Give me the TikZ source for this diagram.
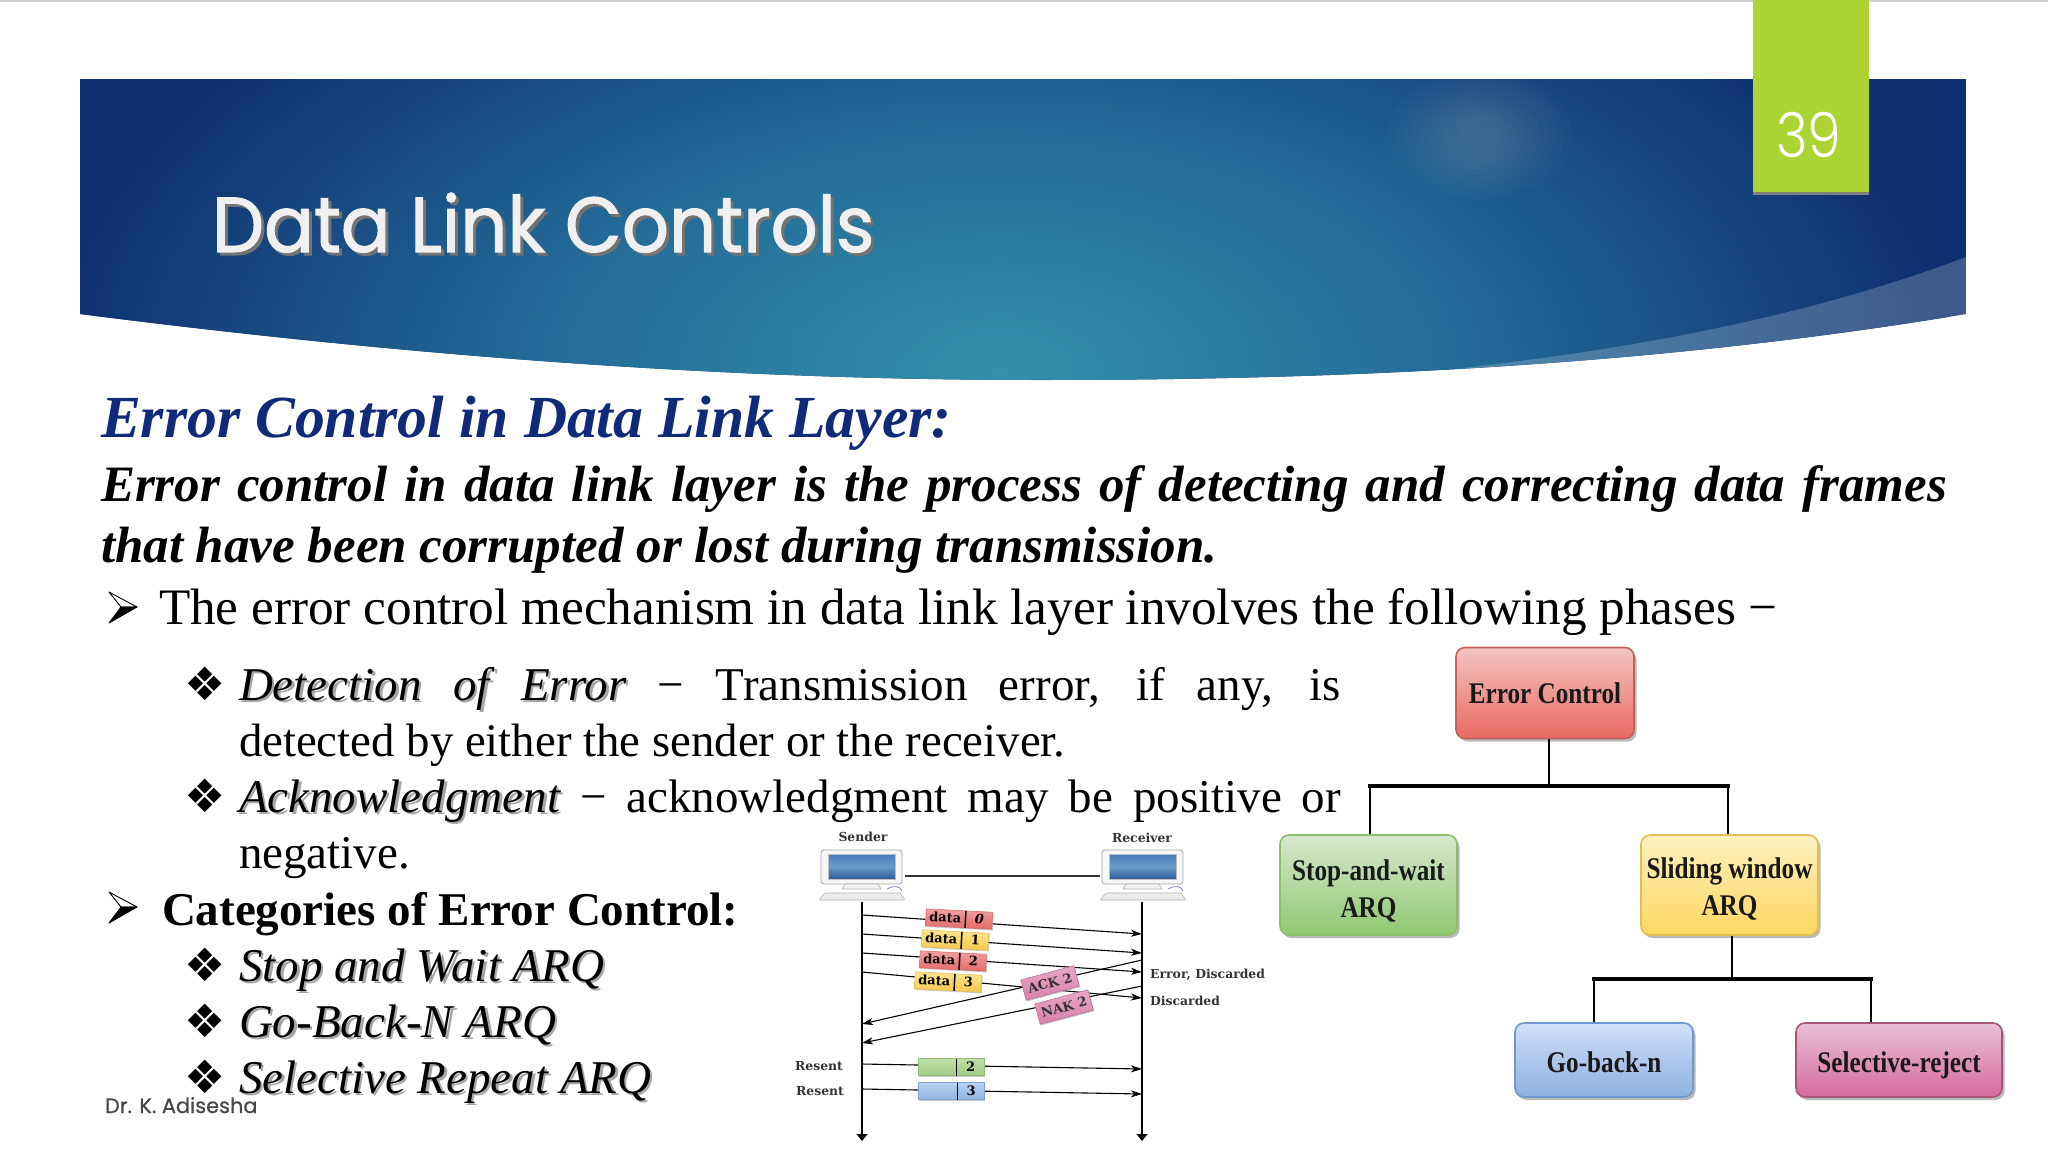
\documentclass[tikz,border=0pt]{standalone}
\usepackage{fontspec}
\usetikzlibrary{arrows.meta,shadows,calc}
\setmainfont{Liberation Serif}
\newfontfamily\titlef[FakeBold=1.3,FakeStretch=0.945]{Poppins}
\newfontfamily\pagef[FakeStretch=0.87]{Poppins Light}
\newfontfamily\footf[FakeBold=0.5]{Poppins}
\newfontfamily\condf[FakeStretch=0.84,BoldFont={Liberation Serif Bold}]{Liberation Serif}
\newfontfamily\wideb{DejaVu Serif}
\newfontfamily\symf{DejaVu Sans}
\definecolor{navyhd}{HTML}{0F3070}
\definecolor{tealhd}{HTML}{338FAB}
\definecolor{midhd}{HTML}{236C98}
\definecolor{headc}{HTML}{0F2A78}
\definecolor{limec}{HTML}{ACD433}
\definecolor{ectop}{HTML}{F4C4C0}\definecolor{ecbot}{HTML}{E96A62}\definecolor{ecdr}{HTML}{C0605A}
\definecolor{swtop}{HTML}{D5E8CC}\definecolor{swbot}{HTML}{8FC871}\definecolor{swdr}{HTML}{8CBF6A}
\definecolor{sltop}{HTML}{FDF0C0}\definecolor{slbot}{HTML}{FDD75F}\definecolor{sldr}{HTML}{E0C050}
\definecolor{gbtop}{HTML}{CFE0F8}\definecolor{gbbot}{HTML}{8EB0E0}\definecolor{gbdr}{HTML}{6F97CC}
\definecolor{srtop}{HTML}{E8C0D4}\definecolor{srbot}{HTML}{D66A9C}\definecolor{srdr}{HTML}{A8557A}
\definecolor{F0A0A0}{HTML}{F0A0A0}\definecolor{E56A6A}{HTML}{E56A6A}\definecolor{D06868}{HTML}{D06868}
\definecolor{FBE690}{HTML}{FBE690}\definecolor{F5C84F}{HTML}{F5C84F}\definecolor{E0BC50}{HTML}{E0BC50}
\definecolor{BFE0A8}{HTML}{BFE0A8}\definecolor{A0CC84}{HTML}{A0CC84}\definecolor{90BC78}{HTML}{90BC78}
\definecolor{B8D2F0}{HTML}{B8D2F0}\definecolor{90B4E0}{HTML}{90B4E0}\definecolor{80A4D0}{HTML}{80A4D0}
\definecolor{E8A8C4}{HTML}{E8A8C4}\definecolor{D880AC}{HTML}{D880AC}\definecolor{B86890}{HTML}{B86890}
\definecolor{4A7AB8}{HTML}{4A7AB8}\definecolor{2A5C98}{HTML}{2A5C98}\definecolor{6A9CC8}{HTML}{6A9CC8}
\pgfdeclareradialshading{hdrshade}{\pgfpointorigin}{color(0bp)=(tealhd); color(12bp)=(midhd); color(25bp)=(navyhd); color(50bp)=(navyhd)}
\newcommand{\fs}[1]{\fontsize{#1}{#1}\selectfont}
\newcommand{\sh}[1]{\rlap{\kern2.5pt\raisebox{-2.5pt}{\textcolor{black!35}{#1}}}#1}
\tikzset{
  x=1pt,y=-1pt,
  txt/.style={anchor=base west,inner sep=0pt,outer sep=0pt},
  shadowed/.style={drop shadow={shadow xshift=2.5pt,shadow yshift=-3pt,fill=black!45,opacity=.6}},
  flowbox/.style={rectangle,rounded corners=9pt,line width=1.6pt,shadowed,inner sep=0pt,align=center,font=\condf\bfseries\fs{30}\selectfont,text=black!90},
  bus/.style={line width=3.6pt,black,line cap=rect},
  stem/.style={line width=2.6pt,black},
  pkt/.style={rectangle,inner sep=0pt,minimum height=17pt,line width=.5pt,font=\wideb\bfseries\fs{13},drop shadow={shadow xshift=1pt,shadow yshift=-1.2pt,fill=black!35,opacity=.6}},
  redpkt/.style={pkt,top color=F0A0A0,bottom color=E56A6A,draw=D06868},
  yelpkt/.style={pkt,top color=FBE690,bottom color=F5C84F,draw=E0BC50},
  grnpkt/.style={pkt,top color=BFE0A8,bottom color=A0CC84,draw=90BC78},
  blupkt/.style={pkt,top color=B8D2F0,bottom color=90B4E0,draw=80A4D0},
  pinkpkt/.style={pkt,minimum height=21pt,minimum width=55pt,top color=E8A8C4,bottom color=D880AC,draw=B86890,text=black!80},
  msg/.style={line width=1.1pt,black,-{Stealth[length=11pt,width=7pt,inset=3pt]}},
  life/.style={line width=1.3pt,black,-{Triangle[length=7pt,width=11pt]}},
  small/.style={inner sep=0pt,font=\wideb\bfseries\fs{12.4},text=black!80},
  computer/.pic={
    \draw[gray!70,line width=.8pt,fill=gray!6,rounded corners=3pt] (0,0) rectangle (81,34);
    \shade[top color=4A7AB8,bottom color=2A5C98,middle color=6A9CC8,draw=gray!50,line width=.3pt] (7,4) rectangle (74,29);
    \draw[gray!60,fill=gray!10,line width=.6pt] (24,34) -- (57,34) -- (60,39) -- (21,39) -- cycle;
    \draw[gray!60,fill=gray!15,line width=.6pt,rounded corners=1pt] (-2,50) -- (4,43) -- (79,43) -- (84,50) -- cycle;
    \draw[blue!40!gray!70,line width=.8pt] (66,39) .. controls (72,35) and (80,36) .. (81,41);
  },
  arrowbullet/.pic={
    \fill[white,draw=black,line width=.9pt,line join=round] (0,0) -- (-28,-15) -- (-16,0) -- cycle;
    \fill[black,draw=black,line width=.9pt,line join=round] (0,0) -- (-28,16) -- (-16,0) -- cycle;
  }
}
\newcommand{\pktbody}[4]{\raisebox{-4pt}{\makebox[#1pt]{#3}}\rule[-8.5pt]{1.5pt}{17pt}\raisebox{-4pt}{\makebox[#2pt]{#4}}}
\begin{document}
\begin{tikzpicture}
\useasboundingbox (0,0) rectangle (2048,1152);
\fill[white] (0,0) rectangle (2048,1152);
\fill[black!18] (0,0) rectangle (2048,2);
% header band
\begin{scope}
\clip (80,79) -- (1966,79) -- (1966,314) .. controls (1660,365) and (1350,380) .. (1040,380) .. controls (720,380) and (400,355) .. (80,314) -- cycle;
\fill[navyhd] (80,79) rectangle (1966,380);
\shade[shading=hdrshade] (50,-130) rectangle (1950,870);
\foreach \i in {1,...,10}
  \fill[white,opacity=.016] (1480,135) ellipse ({100-8*\i} and {70-5*\i});
\fill[white,opacity=.2] (1966,257) .. controls (1800,320) and (1620,350) .. (1463,368) -- (1463,400) -- (1966,400) -- cycle;
\end{scope}
\fill[black!50] (1753,192) rectangle (1869,195);
\fill[limec] (1753,0) rectangle (1869,192);
\node[txt,text=white] (pagenum) at (1776,157) {\pagef\fs{62}39};
\node[txt] (title) at (212,252) {\titlef\fs{78}\rlap{\kern3pt\raisebox{-3pt}{\textcolor{black!55}{Data Link Controls}}}\textcolor{black!6}{Data Link Controls}};
% body text
\node[txt,text=headc] (h1) at (101,437) {\fs{59.7}\bfseries\itshape Error Control in Data Link Layer:};
\node[txt] (l2) at (101,501) {\fs{51}\bfseries\itshape\makebox[1846pt][s]{Error control in data link layer is the process of detecting and correcting data frames}};
\node[txt] (l3) at (101,562) {\fs{51}\bfseries\itshape that have been corrupted or lost during transmission.};
\pic at (137,607) {arrowbullet};
\node[txt] (l4) at (159,624) {\fs{51.2}The error control mechanism in data link layer involves the following phases −};
\node[txt] (b2) at (184,700) {\symf\fs{46}❖};
\node[txt] (l5) at (239,700) {\fs{47}\makebox[1102pt][s]{\itshape\sh{Detection} \sh{of} \sh{Error}\upshape\ − Transmission error, if any, is}};
\node[txt] (l6) at (239,756) {\fs{46.8}detected by either the sender or the receiver.};
\node[txt] (b3) at (184,812) {\symf\fs{46}❖};
\node[txt] (l7) at (239,812) {\fs{47}\makebox[1102pt][s]{\itshape\sh{Acknowledgment}\upshape\ − acknowledgment may be positive or}};
\node[txt] (l8) at (239,868) {\fs{47}negative.};
\pic at (137,907) {arrowbullet};
\node[txt] (l9) at (162,925) {\fs{47}\bfseries Categories of Error Control:};
\node[txt] (b5) at (184,981) {\symf\fs{46}❖};
\node[txt] (l10) at (239,981) {\fs{47}\itshape\sh{Stop and Wait ARQ}};
\node[txt] (b6) at (184,1037) {\symf\fs{46}❖};
\node[txt] (l11) at (239,1037) {\fs{47}\itshape\sh{Go-Back-N ARQ}};
\node[txt] (b7) at (184,1093) {\symf\fs{46}❖};
\node[txt] (l12) at (239,1093) {\fs{47}\itshape\sh{Selective Repeat ARQ}};
\node[txt,text=black!72] (foot) at (105,1113) {\footf\fs{20.9}Dr. K. Adisesha};
% flow tree
\node[flowbox,minimum width=178pt,minimum height=91pt,top color=ectop,bottom color=ecbot,draw=ecdr] (ec) at (1545,693) {Error Control};
\node[flowbox,minimum width=177pt,minimum height=100pt,top color=swtop,bottom color=swbot,draw=swdr] (sw) at (1368.5,885) {\rule{0pt}{33pt}Stop-and-wait\\[7pt]ARQ};
\node[flowbox,minimum width=177pt,minimum height=100pt,top color=sltop,bottom color=slbot,draw=sldr] (sl) at (1729.5,885) {\rule{0pt}{29pt}Sliding window\\[7pt]ARQ};
\node[flowbox,minimum width=178pt,minimum height=74pt,top color=gbtop,bottom color=gbbot,draw=gbdr] (gb) at (1604,1060) {\rule{0pt}{26pt}Go-back-n};
\node[flowbox,minimum width=206pt,minimum height=74pt,top color=srtop,bottom color=srbot,draw=srdr] (sr) at (1899,1060) {\rule{0pt}{31pt}Selective-reject};
\coordinate (j1) at (1549,786);
\coordinate (j1a) at (1370,786);
\coordinate (j1b) at (1728,786);
\coordinate (j2) at (1732,979);
\coordinate (j2a) at (1594,979);
\coordinate (j2b) at (1871,979);
\draw[stem] (ec.south -| j1) -- (j1);
\draw[bus] (j1a) -- (j1b);
\draw[stem] (j1a) -- (sw.north -| j1a);
\draw[stem] (j1b) -- (sl.north -| j1b);
\draw[stem] (sl.south -| j2) -- (j2);
\draw[bus] (j2a) -- (j2b);
\draw[stem] (j2a) -- (gb.north -| j2a);
\draw[stem] (j2b) -- (sr.north -| j2b);
% sequence diagram
\node[small] (sender) at (863,837) {Sender};
\node[small] (receiver) at (1142,838) {Receiver};
\pic at (821,850) {computer};
\pic at (1102,850) {computer};
\coordinate (pcs) at (905,876);
\coordinate (pcr) at (1100,876);
\draw[line width=1.1pt,black!80] (pcs) -- (pcr);
\coordinate (st) at (862,902);\coordinate (sb) at (862,1141);
\coordinate (rt) at (1142,902);\coordinate (rb) at (1142,1141);
\draw[life] (st) -- (sb);
\draw[life] (rt) -- (rb);
\foreach \n/\a/\b in {a0/915/934,a1/934/953,a2/953/972,a3/972/998,r2/1064/1069,r3/1089/1094}{
  \coordinate (\n s) at (862,\a);
  \coordinate (\n r) at (1142,\b);
  \draw[msg] (\n s) -- (\n r);
}
\foreach \n/\a/\b in {ack/960/1024,nak/986/1043}{
  \coordinate (\n r) at (1142,\a);
  \coordinate (\n s) at (862,\b);
  \draw[msg] (\n r) -- (\n s);
}
\node[redpkt,rotate=-3] (d0) at (959,919) {\pktbody{39}{26}{data}{\itshape 0}};
\node[yelpkt,rotate=-3] (d1) at (955,940) {\pktbody{39}{26}{data}{1}};
\node[redpkt,rotate=-3] (d2) at (953,961) {\pktbody{39}{26}{data}{2}};
\node[yelpkt,rotate=-3] (d3) at (948,982) {\pktbody{39}{26}{data}{3}};
\node[pinkpkt,rotate=15] (ack2) at (1050,983) {ACK 2};
\node[pinkpkt,rotate=15] (nak2) at (1064,1007) {NAK 2};
\node[grnpkt] (res2) at (951,1067) {\pktbody{38}{27}{}{2}};
\node[blupkt] (res3) at (951,1091) {\pktbody{39}{26}{}{3}};
\node[small,anchor=west] (errd) at (1150,975) {Error, Discarded};
\node[small,anchor=west] (disc) at (1150,1001) {Discarded};
\node[small] (res2l) at (819,1066) {Resent};
\node[small] (res3l) at (820,1091) {Resent};
\end{tikzpicture}
\end{document}
